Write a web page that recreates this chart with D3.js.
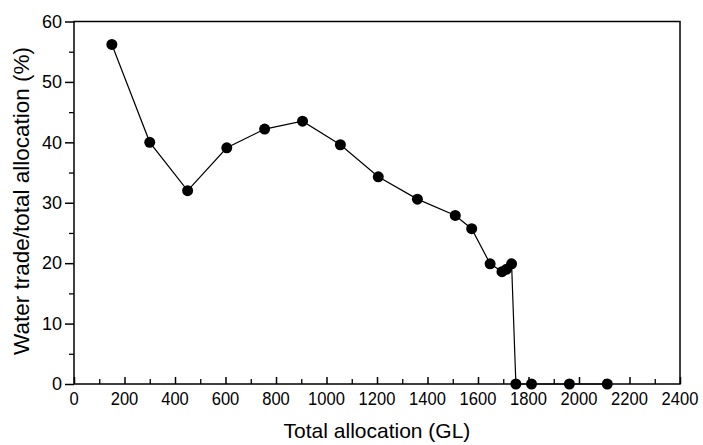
<!DOCTYPE html>
<html>
<head>
<meta charset="utf-8">
<script src="https://cdn.jsdelivr.net/npm/d3@7"></script>
<style>
  body { margin: 0; background: #fff; }
  svg { display: block; font-family: "Liberation Sans", Arial, sans-serif; }
</style>
</head>
<body>
<svg id="chart" width="703" height="445"></svg>
<script>
// allocation (GL) vs share of it traded (%)
const allocation = [150, 300, 450, 605, 755, 905, 1055, 1205, 1360, 1510, 1575,
                    1648, 1695, 1713, 1733, 1750, 1812, 1962, 2112];
const tradeShare = [56.2, 40.0, 32.0, 39.1, 42.2, 43.5, 39.6, 34.3, 30.6, 27.9, 25.7,
                    19.9, 18.6, 19.0, 19.9, 0, 0, 0, 0];
const xTicks = [0, 200, 400, 600, 800, 1000, 1200, 1400, 1600, 1800, 2000, 2200, 2400];
const yTicks = [0, 10, 20, 30, 40, 50, 60];

const svg = d3.select("#chart");
const plotL = 74, plotR = 680, plotT = 21.5, plotB = 384;

const x = d3.scaleLinear().domain([0, 2400]).range([plotL, plotR]);
const y = d3.scaleLinear().domain([0, 60]).range([plotB, plotT]);

// frame
svg.append("rect")
    .attr("x", plotL).attr("y", plotT)
    .attr("width", plotR - plotL).attr("height", plotB - plotT)
    .attr("fill", "none").attr("stroke", "#000").attr("stroke-width", 1.5);

// x axis: ticks point into the plot
const xAxis = svg.append("g")
    .attr("transform", "translate(0," + plotB + ")")
    .call(d3.axisTop(x).tickValues(xTicks).tickSize(7).tickFormat(""));
xAxis.select(".domain").remove();
xAxis.selectAll("line").attr("stroke-width", 1.5);
svg.append("g")
    .attr("transform", "translate(0," + plotB + ")")
    .call(d3.axisTop(x).tickValues(d3.range(100, 2400, 200)).tickSize(5).tickFormat(""))
    .call(g => g.select(".domain").remove())
    .selectAll("line").attr("stroke-width", 1.3);
svg.append("g").selectAll("text")
    .data(xTicks)
    .join("text")
    .attr("transform", d => "translate(" + x(d) + "," + (plotB + 21) + ") scale(0.92,1)")
    .attr("text-anchor", "middle")
    .style("font-size", "18px")
    .text(d => d);

// y axis: ticks point outward
const yAxis = svg.append("g")
    .attr("transform", "translate(" + plotL + ",0)")
    .call(d3.axisLeft(y).tickValues(yTicks).tickSize(9).tickPadding(3));
yAxis.select(".domain").remove();
yAxis.selectAll("line").attr("stroke-width", 1.5);
yAxis.selectAll("text")
    .style("font-family", "Liberation Sans, Arial, sans-serif")
    .style("font-size", "18px")
    .attr("fill", "#000");
svg.append("g")
    .attr("transform", "translate(" + plotL + ",0)")
    .call(d3.axisLeft(y).tickValues(d3.range(5, 60, 10)).tickSize(5).tickFormat(""))
    .call(g => g.select(".domain").remove())
    .selectAll("line").attr("stroke-width", 1.3);

// axis titles
svg.append("text")
    .attr("x", (plotL + plotR) / 2)
    .attr("y", 438)
    .attr("text-anchor", "middle")
    .style("font-size", "21px")
    .text("Total allocation (GL)");
svg.append("text")
    .attr("transform", "translate(29,201) rotate(-90)")
    .attr("text-anchor", "middle")
    .style("font-size", "22.5px")
    .text("Water trade/total allocation (%)");

// line and markers
const pts = allocation.map((d, i) => [d, tradeShare[i]]);
svg.append("path")
    .datum(pts)
    .attr("fill", "none")
    .attr("stroke", "#000")
    .attr("stroke-width", 1.2)
    .attr("d", d3.line().x(d => x(d[0])).y(d => y(d[1])));

svg.append("g").selectAll("circle")
    .data(pts)
    .join("circle")
    .attr("cx", d => x(d[0]))
    .attr("cy", d => y(d[1]))
    .attr("r", 5.5)
    .attr("fill", "#000");
</script>
</body>
</html>
